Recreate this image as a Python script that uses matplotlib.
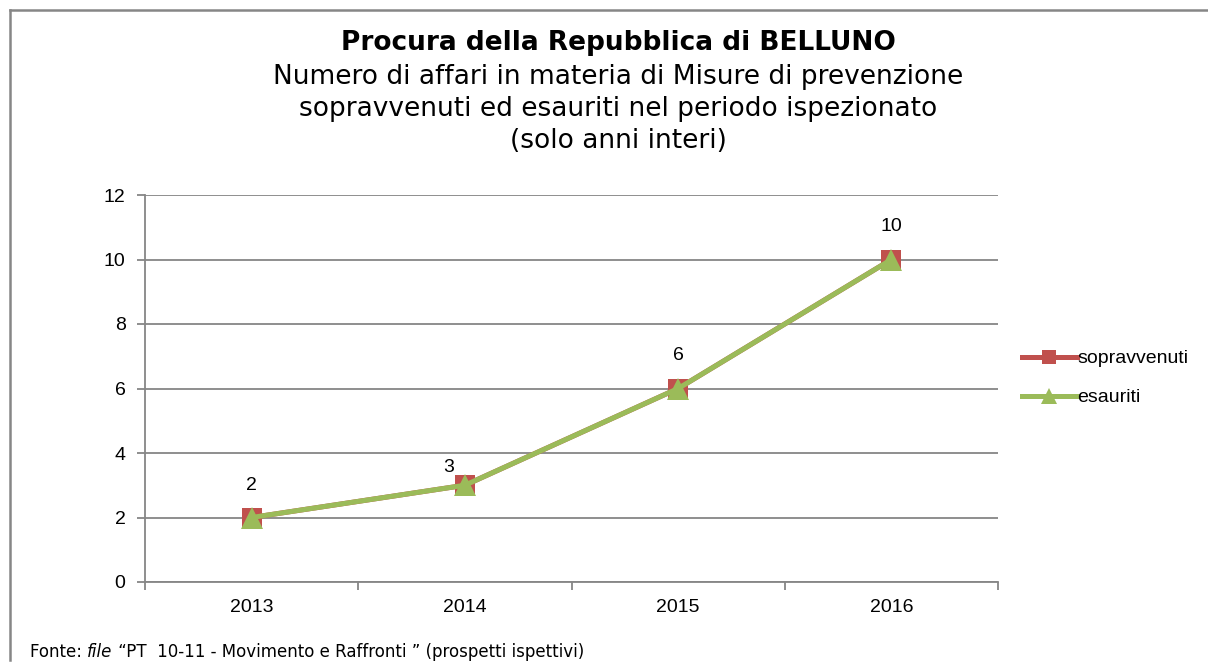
import matplotlib
matplotlib.use("Agg")
import matplotlib.pyplot as plt
from matplotlib.lines import Line2D

years = ["2013", "2014", "2015", "2016"]
sopravvenuti = [2, 3, 6, 10]
esauriti = [2, 3, 6, 10]

title = "Procura della Repubblica di BELLUNO"
subtitle = ("Numero di affari in materia di Misure di prevenzione\n"
            "sopravvenuti ed esauriti nel periodo ispezionato\n"
            "(solo anni interi)")

red = "#C0504D"
green = "#9BBB59"
grid = "#868686"

fig = plt.figure(figsize=(12.08, 6.63), dpi=100)
ax = fig.add_axes([145 / 1208, 1 - 582 / 663, 853 / 1208, 387 / 663])

x = range(len(years))
ax.plot(x, sopravvenuti, color=red, lw=3.6, marker="s", ms=14,
        markeredgewidth=0, label="sopravvenuti", zorder=3)
ax.plot(x, esauriti, color=green, lw=3.6, marker="^", ms=16,
        markeredgewidth=0, label="esauriti", zorder=4)

# etichette dati
label_offsets = [(0, 23), (-12, 13), (0, 24), (0, 24)]
for i, v in enumerate(sopravvenuti):
    ax.annotate(str(v), (i, v), xytext=label_offsets[i], textcoords="offset points",
                ha="center", va="center", fontsize=14, family="Liberation Sans")

ax.set_xlim(-0.5, 3.5)
ax.set_ylim(0, 12)
ax.set_yticks(range(0, 13, 2))
ax.set_xticks(list(x))
ax.set_xticklabels(years)
ax.set_xticks([-0.5, 0.5, 1.5, 2.5, 3.5], minor=True)
ax.tick_params(axis="x", which="major", length=0, pad=12)
ax.tick_params(axis="x", which="minor", length=6, color=grid, width=1.3)
ax.tick_params(axis="y", length=6, color=grid, width=1.3, pad=8)
for lab in ax.get_xticklabels() + ax.get_yticklabels():
    lab.set_family("Liberation Sans")
    lab.set_fontsize(14)
ax.grid(axis="y", color=grid, lw=1.3)
ax.set_axisbelow(True)
for s in ["top", "right"]:
    ax.spines[s].set_visible(False)
ax.spines["left"].set_color(grid)
ax.spines["bottom"].set_color(grid)
ax.spines["left"].set_linewidth(1.3)
ax.spines["bottom"].set_linewidth(1.3)

handles = [Line2D([], [], color=red, lw=3.6, marker="s", ms=10, markeredgewidth=0),
           Line2D([], [], color=green, lw=3.6, marker="^", ms=11, markeredgewidth=0)]
fig.legend(handles, ["sopravvenuti", "esauriti"], loc="center left",
           bbox_to_anchor=(1012 / 1208, 1 - 378 / 663), frameon=False,
           prop={"family": "Liberation Sans", "size": 14}, handlelength=2.85,
           handletextpad=0.0, labelspacing=1.1, borderpad=0)

fig.text(618 / 1208, 1 - 43 / 663, title, ha="center", va="center",
         fontsize=19, fontweight="bold", family="DejaVu Sans")
fig.text(618 / 1208, 1 - 109 / 663, subtitle, ha="center", va="center",
         fontsize=19, family="DejaVu Sans", linespacing=1.32)

# nota fonte
t = fig.text(30 / 1208, 1 - 657 / 663, "Fonte: ", ha="left", va="baseline",
             fontsize=12, family="DejaVu Sans")
t = plt.annotate("file", xy=(1, 0), xycoords=t, va="bottom", ha="left",
                 fontsize=12, family="DejaVu Sans", style="italic")
plt.annotate(" \u201cPT  10-11 - Movimento e Raffronti \u201d (prospetti ispettivi)",
             xy=(1, 0), xycoords=t, va="bottom", ha="left",
             fontsize=12, family="DejaVu Sans")

# cornice
fig.add_artist(Line2D([9.5 / 1208, 9.5 / 1208], [1 - 660 / 663, 1 - 9.5 / 663],
                      color=grid, lw=1.8, transform=fig.transFigure))
fig.add_artist(Line2D([9.5 / 1208, 1], [1 - 9.5 / 663, 1 - 9.5 / 663],
                      color=grid, lw=1.8, transform=fig.transFigure))

fig.savefig("out.png", dpi=100)
